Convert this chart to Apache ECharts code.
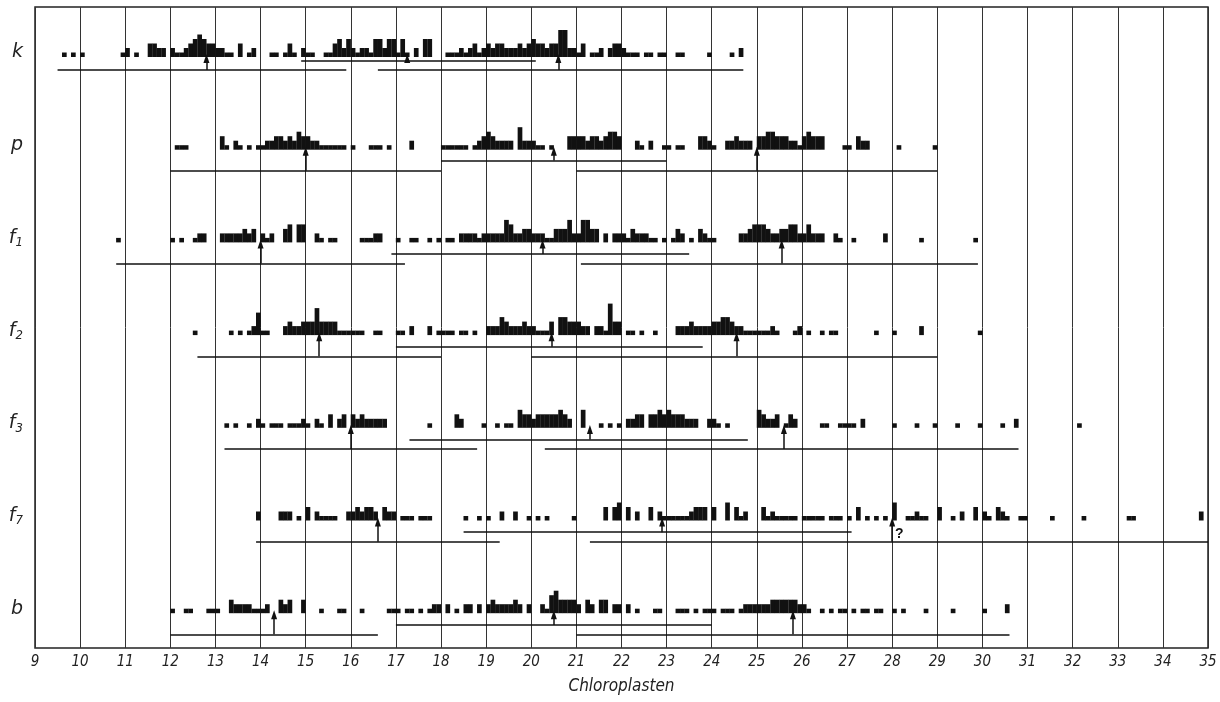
<!DOCTYPE html>
<html>
<head>
<meta charset="utf-8">
<script src="https://cdn.jsdelivr.net/npm/echarts@6/dist/echarts.min.js"></script>
<style>
  html, body { margin: 0; background: #fff; }
  #chart { width: 1220px; height: 702px; }
</style>
</head>
<body>
<div id="chart"></div>
<script>
// Häufigkeiten je Klasse von 0,1 Chloroplasten; jede Zeile deckt eine ganze Zahl ab
var kStart = 9;
var kCounts = [
  0,0,0,0,0,0,1,0,1,0,
  1,0,0,0,0,0,0,0,0,1,
  2,0,1,0,0,3,3,2,2,0,
  2,1,1,2,3,4,5,4,3,3,
  2,2,1,1,0,3,0,1,2,0,
  0,0,1,1,0,1,3,1,0,2,
  1,1,0,0,1,1,3,4,2,4,
  2,1,2,2,1,4,4,2,4,4,
  1,4,1,0,2,0,4,4,0,0,
  0,1,1,1,2,1,2,3,1,2,
  3,2,3,3,2,2,2,3,2,3,
  4,3,3,2,3,3,6,6,2,2,
  1,3,0,1,1,2,0,2,3,3,
  2,1,1,1,0,1,1,0,1,1,
  0,0,1,1,0,0,0,0,0,1,
  0,0,0,0,1,0,2
];
var kRanges = [[9.5, 15.9], [14.9, 20.1], [16.6, 24.7]];
var kMeans = [12.8, 17.25, 20.6];

var pStart = 12;
var pCounts = [
  0,1,1,1,0,0,0,0,0,0,
  0,3,1,0,2,1,0,1,0,1,
  1,2,2,3,3,2,3,2,4,3,
  3,2,2,1,1,1,1,1,1,0,
  1,0,0,0,1,1,1,0,1,0,
  0,0,0,2,0,0,0,0,0,0,
  1,1,1,1,1,1,0,1,2,3,
  4,3,2,2,2,2,0,5,2,2,
  2,1,1,0,1,0,0,0,3,3,
  3,3,2,3,3,2,3,4,4,3,
  0,0,0,2,1,0,2,0,0,1,
  1,0,1,1,0,0,0,3,3,2,
  1,0,0,2,2,3,2,2,2,0,
  3,3,4,4,3,3,3,2,2,1,
  3,4,3,3,3,0,0,0,0,1,
  1,0,3,2,2,0,0,0,0,0,
  0,1,0,0,0,0,0,0,0,1
];
var pRanges = [[12.0, 18.0], [18.0, 23.0], [21.0, 29.0]];
var pMeans = [15.0, 20.5, 25.0];

var f1Start = 10;
var f1Counts = [
  0,0,0,0,0,0,0,0,1,0,
  0,0,0,0,0,0,0,0,0,0,
  1,0,1,0,0,1,2,2,0,0,
  0,2,2,2,2,2,3,2,3,0,
  2,1,2,0,0,3,4,0,4,4,
  0,0,2,1,0,1,1,0,0,0,
  0,0,1,1,1,2,2,0,0,0,
  1,0,0,1,1,0,0,1,0,1,
  0,1,1,0,2,2,2,2,1,2,
  2,2,2,2,5,4,2,2,3,3,
  2,2,2,1,1,3,3,3,5,2,
  2,5,5,3,3,0,2,0,2,2,
  2,1,3,2,2,2,1,1,0,1,
  0,1,3,2,0,1,0,3,2,1,
  1,0,0,0,0,0,2,2,3,4,
  4,4,3,2,2,3,3,4,4,2,
  2,4,2,2,2,0,0,2,1,0,
  0,1,0,0,0,0,0,0,2,0,
  0,0,0,0,0,0,1,0,0,0,
  0,0,0,0,0,0,0,0,1
];
var f1Ranges = [[10.8, 17.2], [16.9, 23.5], [21.1, 29.9]];
var f1Means = [14.0, 20.25, 25.55];

var f2Start = 12;
var f2Counts = [
  0,0,0,0,0,1,0,0,0,0,
  0,0,0,1,0,1,0,1,2,5,
  1,1,0,0,0,2,3,2,2,3,
  3,3,6,3,3,3,3,1,1,1,
  1,1,1,0,0,1,1,0,0,0,
  1,1,0,2,0,0,0,2,0,1,
  1,1,1,0,1,1,0,1,0,0,
  2,2,2,4,3,2,2,2,3,2,
  2,1,1,1,3,0,4,4,3,3,
  3,2,2,0,2,2,1,7,3,3,
  0,1,1,0,1,0,0,1,0,0,
  0,0,2,2,2,3,2,2,2,2,
  3,3,4,4,3,2,2,1,1,1,
  1,1,1,2,1,0,0,0,1,2,
  0,1,0,0,1,0,1,1,0,0,
  0,0,0,0,0,0,1,0,0,0,
  1,0,0,0,0,0,2,0,0,0,
  0,0,0,0,0,0,0,0,0,1
];
var f2Ranges = [[12.6, 18.0], [17.0, 23.8], [20.0, 29.0]];
var f2Means = [15.3, 20.45, 24.55];

var f3Start = 13;
var f3Counts = [
  0,0,1,0,1,0,0,1,0,2,
  1,0,1,1,1,0,1,1,1,2,
  1,0,2,1,0,3,0,2,3,0,
  3,2,3,2,2,2,2,2,0,0,
  0,0,0,0,0,0,0,1,0,0,
  0,0,0,3,2,0,0,0,0,1,
  0,0,1,0,1,1,0,4,3,3,
  2,3,3,3,3,3,4,3,2,0,
  0,4,0,0,0,1,0,1,0,1,
  0,2,2,3,3,0,3,3,4,3,
  4,3,3,3,2,2,2,0,0,2,
  2,1,0,1,0,0,0,0,0,0,
  4,3,2,2,3,0,1,3,2,0,
  0,0,0,0,1,1,0,0,1,1,
  1,1,0,2,0,0,0,0,0,0,
  1,0,0,0,0,1,0,0,0,1,
  0,0,0,0,1,0,0,0,0,1,
  0,0,0,0,1,0,0,2,0,0,
  0,0,0,0,0,0,0,0,0,0,
  0,1
];
var f3Ranges = [[13.2, 18.8], [17.3, 24.8], [20.3, 30.8]];
var f3Means = [16.0, 21.3, 25.6];

var f7Start = 13;
var f7Counts = [
  0,0,0,0,0,0,0,0,0,2,
  0,0,0,0,2,2,2,0,1,0,
  3,0,2,1,1,1,1,0,0,2,
  2,3,2,3,3,2,0,3,2,2,
  0,1,1,1,0,1,1,1,0,0,
  0,0,0,0,0,1,0,0,1,0,
  1,0,0,2,0,0,2,0,0,1,
  0,1,0,1,0,0,0,0,0,1,
  0,0,0,0,0,0,3,0,3,4,
  0,3,0,2,0,0,3,0,2,1,
  1,1,1,1,1,2,3,3,3,0,
  3,0,0,4,0,3,1,2,0,0,
  0,3,1,2,1,1,1,1,1,0,
  1,1,1,1,1,0,1,1,1,0,
  1,0,3,0,1,0,1,0,1,0,
  4,0,0,1,1,2,1,1,0,0,
  3,0,0,1,0,2,0,0,3,0,
  2,1,0,3,2,1,0,0,1,1,
  0,0,0,0,0,1,0,0,0,0,
  0,0,1,0,0,0,0,0,0,0,
  0,0,1,1,0,0,0,0,0,0,
  0,0,0,0,0,0,0,0,2,0
];
var f7Ranges = [[13.9, 19.3], [18.5, 27.1], [21.3, 35.0]];
var f7Means = [16.6, 22.9, 28.0];
var f7Doubtful = 28.0;

var bStart = 12;
var bCounts = [
  1,0,0,1,1,0,0,0,1,1,
  1,0,0,3,2,2,2,2,1,1,
  1,2,0,0,3,2,3,0,0,3,
  0,0,0,1,0,0,0,1,1,0,
  0,0,1,0,0,0,0,0,1,1,
  1,0,1,1,0,1,0,1,2,2,
  0,2,0,1,0,2,2,0,2,0,
  2,3,2,2,2,2,3,2,0,2,
  0,0,2,1,4,5,3,3,3,3,
  2,0,3,2,0,3,3,0,2,2,
  0,2,0,1,0,0,0,1,1,0,
  0,0,1,1,1,0,1,0,1,1,
  1,0,1,1,1,0,1,2,2,2,
  2,2,2,3,3,3,3,3,3,2,
  2,1,0,0,1,0,1,0,1,1,
  0,1,0,1,1,0,1,1,0,0,
  1,0,1,0,0,0,0,1,0,0,
  0,0,0,1,0,0,0,0,0,0,
  1,0,0,0,0,2
];
var bRanges = [[12.0, 16.6], [17.0, 24.0], [21.0, 30.6]];
var bMeans = [14.3, 20.5, 25.8];

var xMin = 9, xMax = 35;

var rows = [
  { label: '{i|k}', start: kStart, counts: kCounts, ranges: kRanges, means: kMeans },
  { label: '{i|p}', start: pStart, counts: pCounts, ranges: pRanges, means: pMeans },
  { label: '{i|f}{s|1}', start: f1Start, counts: f1Counts, ranges: f1Ranges, means: f1Means },
  { label: '{i|f}{s|2}', start: f2Start, counts: f2Counts, ranges: f2Ranges, means: f2Means },
  { label: '{i|f}{s|3}', start: f3Start, counts: f3Counts, ranges: f3Ranges, means: f3Means },
  { label: '{i|f}{s|7}', start: f7Start, counts: f7Counts, ranges: f7Ranges, means: f7Means },
  { label: '{i|b}', start: bStart, counts: bCounts, ranges: bRanges, means: bMeans }
];

// Layout (px): Grundlinie der ersten Zeile, Zeilenabstand, Höhe einer Zählung
var U = 4.5;
var firstBase = 57, rowStep = 92.7;
var lineLevels = [[-0.9, -2.9], [-2.4, -4.7], [-2.6, -4.7], [-2.6, -4.7], [-2.6, -4.7], [-2.6, -4.7], [-2.6, -4.7]];
var ink = '#111';
var font = 'DejaVu Sans Condensed';

function toBins(start, counts) {
  var out = [];
  counts.forEach(function (c, i) {
    if (c > 0) out.push([+(start + i * 0.1 + 0.05).toFixed(2), c]);
  });
  return out;
}

var grids = [{ left: 35, right: 12, top: 7, bottom: 54, show: true, borderColor: '#222', borderWidth: 1.5 }];
var xAxes = [{
  type: 'value', gridIndex: 0, min: xMin, max: xMax, interval: 1,
  axisLine: { show: false }, axisTick: { show: false },
  axisLabel: { color: '#222', fontSize: 15, fontStyle: 'italic', fontFamily: font, margin: 7 },
  splitLine: { show: true, lineStyle: { color: '#333', width: 1 } },
  name: 'Chloroplasten', nameLocation: 'middle', nameGap: 30,
  nameTextStyle: { color: '#222', fontSize: 17, fontStyle: 'italic', fontFamily: font }
}];
var yAxes = [{ type: 'value', gridIndex: 0, min: 0, max: 1, show: false }];
var series = [];

rows.forEach(function (row, i) {
  var base = firstBase + i * rowStep;
  var g = i + 1;
  grids.push({ left: 35, right: 12, top: base - 8 * U, height: 14 * U });
  xAxes.push({ type: 'value', gridIndex: g, min: xMin, max: xMax, show: false });
  yAxes.push({
    type: 'value', gridIndex: g, min: -6, max: 8,
    axisLine: { show: false }, axisTick: { show: false }, axisLabel: { show: false },
    splitLine: { show: false },
    name: row.label, nameLocation: 'middle', nameRotate: 0, nameGap: 12,
    nameTextStyle: {
      rich: {
        i: { fontSize: 19, fontStyle: 'italic', fontFamily: 'DejaVu Sans', color: '#222' },
        s: { fontSize: 13, fontStyle: 'italic', fontFamily: font, color: '#222', padding: [10, 0, 0, 0] }
      }
    }
  });

  var lv = lineLevels[i];
  var marks = [];
  row.ranges.forEach(function (r, j) {
    var y = j === 1 ? lv[0] : lv[1];
    marks.push([{ coord: [r[0], y] }, { coord: [r[1], y] }]);
    marks.push([
      { coord: [row.means[j], y], symbol: 'none' },
      { coord: [row.means[j], -0.35], symbol: 'triangle', symbolSize: [6, 9] }
    ]);
  });

  var s = {
    type: 'bar', xAxisIndex: g, yAxisIndex: g,
    data: toBins(row.start, row.counts),
    barWidth: 4.7,
    itemStyle: { color: ink },
    silent: true,
    markLine: {
      silent: true, animation: false, symbol: ['none', 'none'],
      lineStyle: { color: ink, width: 1.5, type: 'solid' },
      label: { show: false }, emphasis: { disabled: true },
      data: marks
    }
  };
  if (row.means === f7Means) {
    s.markPoint = {
      silent: true, animation: false, symbol: 'circle', symbolSize: 0,
      label: { show: true, formatter: '?', color: ink, fontSize: 14, fontWeight: 'bold', offset: [7, -8] },
      data: [{ coord: [f7Doubtful, lv[1]] }]
    };
  }
  series.push(s);
});

var chart = echarts.init(document.getElementById('chart'));
chart.setOption({
  animation: false,
  backgroundColor: '#fff',
  grid: grids,
  xAxis: xAxes,
  yAxis: yAxes,
  series: series
});
</script>
</body>
</html>
